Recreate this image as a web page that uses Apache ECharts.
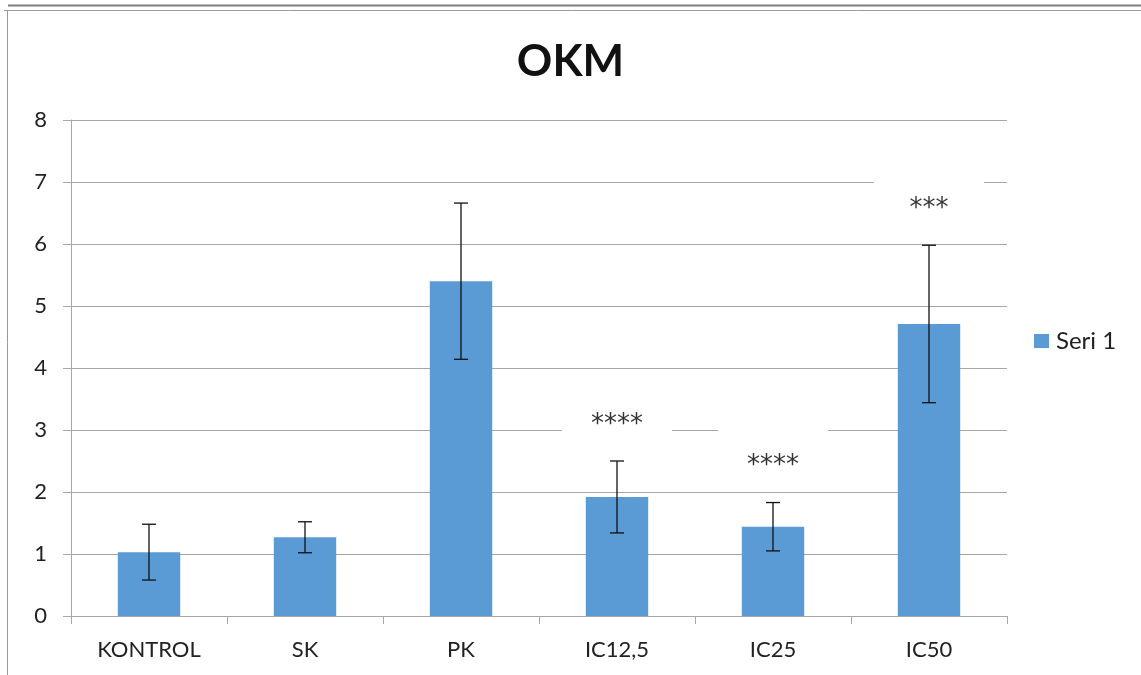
<!DOCTYPE html>
<html>
<head>
<meta charset="utf-8">
<script src="https://cdn.jsdelivr.net/npm/echarts@6/dist/echarts.min.js"></script>
<style>
  html, body { margin: 0; padding: 0; background: #fff; }
  #chart { width: 1141px; height: 675px; }
</style>
</head>
<body>
<div id="chart"></div>
<script>
// OKM values per group: mean and error (±)
const categories = ['KONTROL', 'SK', 'PK', 'IC12,5', 'IC25', 'IC50'];
const means = [1.03, 1.27, 5.40, 1.92, 1.44, 4.71];
const errors = [0.45, 0.25, 1.26, 0.58, 0.39, 1.27];
const significance = ['', '', '', '****', '****', '***'];
const seriesName = 'Seri 1';

const barColor = '#5B9BD5';
const gridColor = '#a6a6a6';
const textColor = '#222';

const errorData = categories.map((c, i) => [i, means[i] - errors[i], means[i] + errors[i]]);
const starData = [];
significance.forEach((s, i) => {
  if (s) starData.push({ value: [i, means[i] + errors[i]], star: s });
});

const chart = echarts.init(document.getElementById('chart'), null, { renderer: 'canvas' });

chart.setOption({
  animation: false,
  backgroundColor: '#fff',
  title: {
    text: 'OKM',
    left: 'center',
    top: 40,
    padding: 0,
    textStyle: { fontFamily: 'Lato', fontWeight: 'bold', fontSize: 44, color: '#111' }
  },
  legend: {
    data: [seriesName],
    orient: 'vertical',
    left: 1034,
    top: 329,
    padding: 0,
    itemWidth: 15,
    itemHeight: 14,
    itemGap: 10,
    icon: 'rect',
    textStyle: { fontFamily: 'Lato', fontSize: 24, color: textColor, padding: [0, 0, 0, 2] }
  },
  grid: { left: 71, right: 134, top: 120, bottom: 59, containLabel: false },
  xAxis: {
    type: 'category',
    data: categories,
    axisLine: { lineStyle: { color: gridColor, width: 1 } },
    axisTick: { show: true, length: 8, lineStyle: { color: gridColor } },
    axisLabel: { margin: 23, fontFamily: 'Lato', fontSize: 22, color: textColor }
  },
  yAxis: {
    type: 'value',
    min: 0,
    max: 8,
    interval: 1,
    axisLine: { show: true, lineStyle: { color: gridColor, width: 1 } },
    axisTick: { show: true, length: 8, lineStyle: { color: gridColor } },
    splitLine: { lineStyle: { color: gridColor, width: 1 } },
    axisLabel: { margin: 24, fontFamily: 'Lato', fontSize: 22, color: textColor }
  },
  series: [
    {
      name: seriesName,
      type: 'bar',
      data: means,
      barWidth: '40%',
      itemStyle: { color: barColor },
      z: 2
    },
    {
      // white text boxes behind the significance marks
      type: 'scatter',
      data: starData,
      symbol: 'rect',
      symbolSize: [110, 61],
      symbolOffset: [0, -43],
      itemStyle: { color: '#fff', opacity: 1 },
      silent: true,
      z: 3
    },
    {
      // significance marks above the error bars
      type: 'scatter',
      data: starData,
      symbolSize: 0,
      silent: true,
      z: 4,
      label: {
        show: true,
        position: 'inside',
        offset: [0, -36],
        formatter: p => p.data.star,
        fontFamily: 'DejaVu Sans',
        fontSize: 26,
        color: '#000'
      }
    },
    {
      // error bars with caps
      type: 'custom',
      data: errorData,
      z: 5,
      silent: true,
      renderItem: function (params, api) {
        const x = api.value(0);
        const low = api.coord([x, api.value(1)]);
        const high = api.coord([x, api.value(2)]);
        const cap = 7;
        const style = { stroke: '#111', lineWidth: 1.3 };
        return {
          type: 'group',
          children: [
            { type: 'line', shape: { x1: high[0], y1: high[1], x2: low[0], y2: low[1] }, style: style },
            { type: 'line', shape: { x1: high[0] - cap, y1: high[1], x2: high[0] + cap, y2: high[1] }, style: style },
            { type: 'line', shape: { x1: low[0] - cap, y1: low[1], x2: low[0] + cap, y2: low[1] }, style: style }
          ]
        };
      }
    }
  ],
  graphic: [
    { type: 'line', shape: { x1: 8, y1: 5.5, x2: 1141, y2: 5.5 }, style: { stroke: '#7f7f7f', lineWidth: 2 } },
    { type: 'line', shape: { x1: 4, y1: 10.5, x2: 1141, y2: 10.5 }, style: { stroke: '#9a9a9a', lineWidth: 1 } },
    { type: 'line', shape: { x1: 7.5, y1: 10, x2: 7.5, y2: 675 }, style: { stroke: '#9a9a9a', lineWidth: 1 } }
  ]
});
</script>
</body>
</html>
